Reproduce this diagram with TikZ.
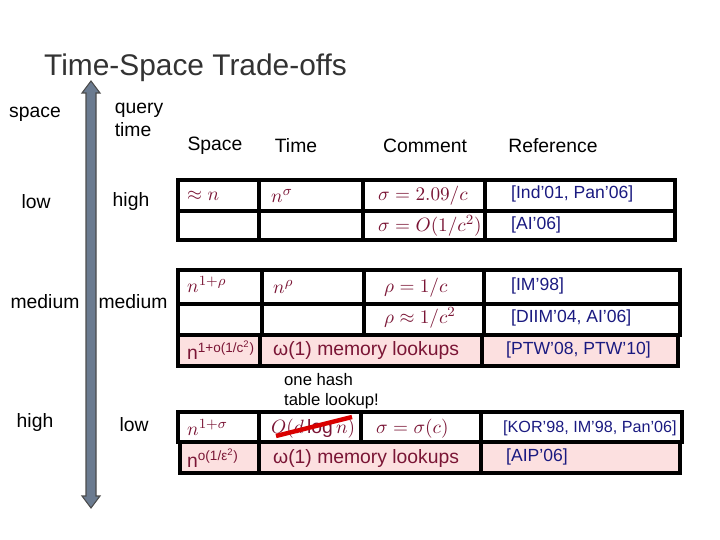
\documentclass[tikz,border=0pt]{standalone}
\usepackage{fontspec}
\setmainfont{Liberation Sans}
\definecolor{mred}{HTML}{7A1535}
\definecolor{mblue}{HTML}{1A1A80}
\definecolor{pinkf}{HTML}{FCE0E0}
\definecolor{arrowc}{HTML}{6B7B90}
\tikzset{
 cell/.style={draw=black,line width=2.2pt},
 lab/.style={font=\fontsize{11pt}{13pt}\selectfont,align=center},
 mth/.style={font=\fontsize{11pt}{13pt}\selectfont,text=mred,anchor=west},
 ref/.style={font=\fontsize{10pt}{12pt}\selectfont,text=mblue,anchor=west},
}
\begin{document}
\begin{tikzpicture}[x=0.02cm,y=-0.02cm]
\useasboundingbox (0,0) rectangle (720,540);
\node[font=\fontsize{17pt}{19pt}\selectfont,anchor=west,text=black!80] (title) at (38,68) {Time-Space Trade-offs};
% arrow
\draw[draw=black!70,fill=arrowc,line width=0.6pt] (91,81) -- (100,93) -- (96,93) -- (96,496) -- (100,496) -- (91,508) -- (82,496) -- (86,496) -- (86,93) -- (82,93) -- cycle;
\node[lab] (l1) at (35,114) {space};
\node[lab,align=left] (l2) at (139,120) {query\\time};
\node[lab] (l3) at (36,202) {low};
\node[lab] (l4) at (131,202) {high};
\node[lab,fill=white,inner sep=1pt] (l5) at (45,302) {medium};
\node[lab] (l6) at (133,302) {medium};
\node[lab] (l7) at (35,423) {high};
\node[lab] (l8) at (134,425) {low};
\node[lab] (h1) at (215,146) {Space};
\node[lab] (h2) at (296,146) {Time};
\node[lab] (h3) at (425,146) {Comment};
\node[lab] (h4) at (553,146) {Reference};
% table 1
\draw[cell] (178,180) rectangle (675,240);
\draw[cell] (178,211) -- (675,211);
\foreach \x in {259,363,485} \draw[cell] (\x,180) -- (\x,240);
\node[mth] (a1) at (181,196) {$\approx n$};
\node[mth] (a2) at (265,196) {$n^{\sigma}$};
\node[mth] (a3) at (372,196) {$\sigma = 2.09/c$};
\node[ref] (a4) at (505,194) {[Ind’01, Pan’06]};
\node[mth] (b3) at (372,226) {$\sigma = O(1/c^2)$};
\node[ref] (b4) at (505,225) {[AI’06]};
% table 2
\fill[pinkf] (178,335) rectangle (678,366);
\draw[cell] (178,270) rectangle (680,335);
\draw[cell] (178,304) -- (680,304);
\foreach \x in {262,364,484} \draw[cell] (\x,270) -- (\x,335);
\draw[cell] (178,335) rectangle (678,366);
\foreach \x in {260,482} \draw[cell] (\x,335) -- (\x,366);
\node[mth] (c1) at (181,284) {$n^{1+\rho}$};
\node[mth] (c2) at (267,287) {$n^{\rho}$};
\node[mth] (c3) at (378,288) {$\rho = 1/c$};
\node[ref] (c4) at (505,286) {[IM’98]};
\node[mth] (d3) at (378,318) {$\rho \approx 1/c^2$};
\node[ref] (d4) at (505,318) {[DIIM’04, AI’06]};
\node[mth] (e1) at (181,350) {n\textsuperscript{1+o(1/c\textsuperscript{2})}};
\node[mth] (e2) at (267,351) {ω(1) memory lookups};
\node[ref] (e4) at (500,350) {[PTW’08, PTW’10]};
% note
\node[font=\fontsize{9.5pt}{11.5pt}\selectfont,align=left,anchor=west] (note) at (278,391) {one hash\\table lookup!};
% table 3
\draw[cell] (178,412) rectangle (682,442);
\foreach \x in {259,361,481} \draw[cell] (\x,412) -- (\x,442);
\fill[pinkf] (180,442) rectangle (680,473);
\draw[cell] (180,442) rectangle (680,473);
\foreach \x in {259,481} \draw[cell] (\x,442) -- (\x,473);
\node[mth] (f1) at (181,427) {$n^{1+\sigma}$};
\node[mth] (f2) at (265,429) {$O(d\log n)$};
\node[mth] (f3) at (370,429) {$\sigma = \sigma(c)$};
\node[ref,font=\fontsize{9.2pt}{12pt}\selectfont] (f4) at (497,428) {[KOR’98, IM’98, Pan’06]};
\coordinate (s1) at (276,436);
\coordinate (s2) at (352,417);
\draw[red!85!black,line width=2.5pt] (s1) -- (s2);
\node[mth] (g1) at (181,458) {n\textsuperscript{o(1/ε\textsuperscript{2})}};
\node[mth] (g2) at (267,459) {ω(1) memory lookups};
\node[ref] (g4) at (500,457) {[AIP’06]};
\end{tikzpicture}
\end{document}
